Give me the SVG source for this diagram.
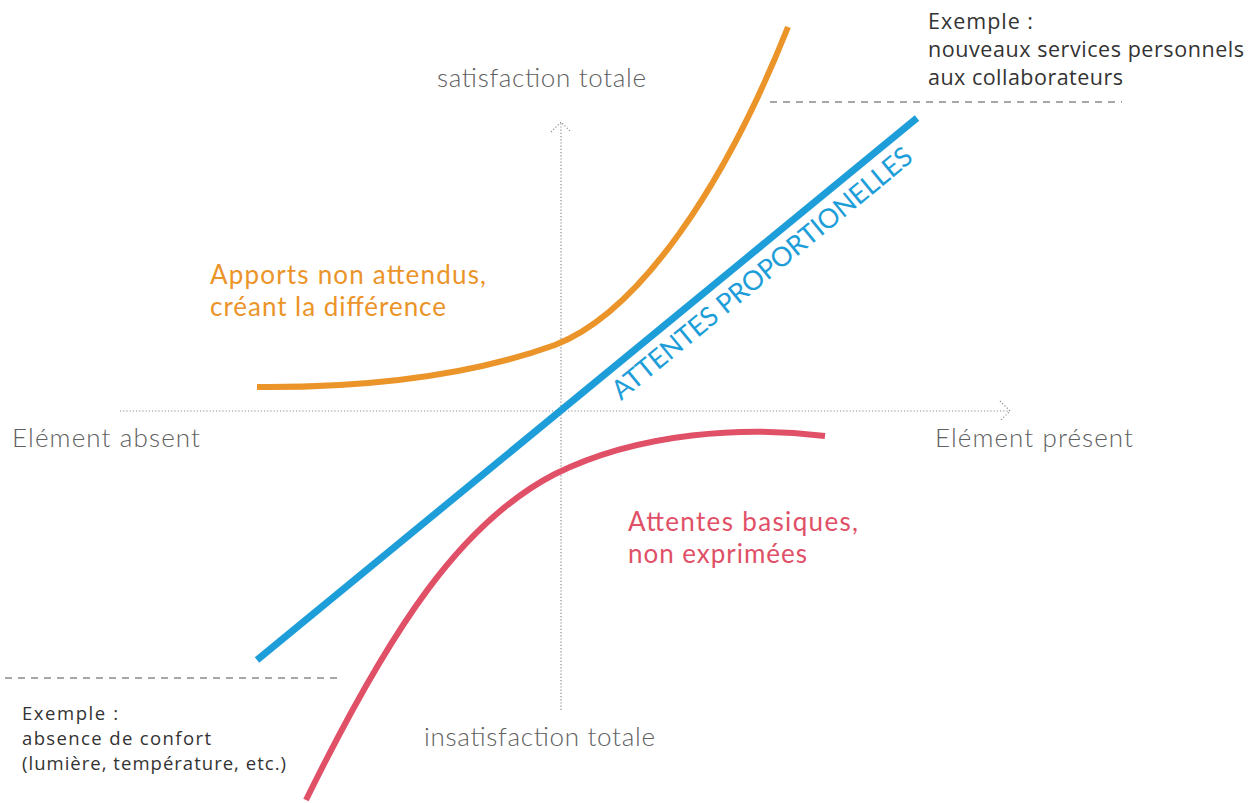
<svg xmlns="http://www.w3.org/2000/svg" width="1248" height="803" viewBox="0 0 1248 803">
  <style>
    .axis { fill: none; stroke: #8a8a8a; stroke-width: 1.2; stroke-dasharray: 1.2 2; }
    .guide { fill: none; stroke: #8a8a8a; stroke-width: 1.3; stroke-dasharray: 7 6; }
    .lbl { font-family: Lato, "Open Sans", sans-serif; font-weight: 300; font-size: 26px; fill: #606060; }
    .note { font-family: "Open Sans", Lato, sans-serif; font-weight: 400; fill: #333333; }
    .curve { fill: none; stroke-linecap: butt; }
    .orange { fill: #EB9429; }
    .red { fill: #E05067; }
    .cat { font-family: Lato, "Open Sans", sans-serif; font-weight: 400; font-size: 26px; }
  </style>
  <rect width="1248" height="803" fill="#ffffff"/>

  <!-- axes -->
  <g id="axes">
    <path class="axis" d="M120 411 H1010"/>
    <path class="axis" d="M1000 401 L1010 411 L1000 421"/>
    <path class="axis" d="M561 710 V122"/>
    <path class="axis" d="M551 132 L561 122 L571 132"/>
  </g>

  <!-- example guide lines -->
  <g id="guides">
    <path class="guide" d="M770 102 H1122"/>
    <path class="guide" d="M5 678 H343"/>
  </g>

  <!-- curves -->
  <g id="connectors">
    <path id="proportional" class="curve" stroke="#1E9ED9" stroke-width="7" d="M257 660 L917 118"/>
    <path id="delighters" class="curve" stroke="#EB9429" stroke-width="6" d="M257 387 C380 388 480 372 555 345 C640 312 725 185 788 27"/>
    <path id="basics" class="curve" stroke="#E05067" stroke-width="6" d="M306 800 C392 625 462 522 555 474 C640 432 745 426 825 436"/>
  </g>

  <!-- axis labels -->
  <g id="axis-labels">
    <text class="lbl" x="437" y="87" textLength="209">satisfaction totale</text>
    <text class="lbl" x="424" y="746" textLength="231">insatisfaction totale</text>
    <text class="lbl" x="12" y="447" textLength="188">Elément absent</text>
    <text class="lbl" x="935" y="447" textLength="198">Elément présent</text>
  </g>

  <!-- category labels -->
  <g id="label-delighters" class="cat orange">
    <text x="210" y="284" textLength="276">Apports non attendus,</text>
    <text x="210" y="316" textLength="236">créant la différence</text>
  </g>
  <g id="label-basics" class="cat red">
    <text x="628" y="531" textLength="230">Attentes basiques,</text>
    <text x="628" y="563" textLength="179">non exprimées</text>
  </g>
  <g id="label-proportional">
    <text x="0" y="0" transform="translate(621 401) rotate(-39.4)" font-family="Lato, 'Open Sans', sans-serif" font-size="27" fill="#1E9ED9" textLength="380">ATTENTES PROPORTIONELLES</text>
  </g>

  <!-- examples -->
  <g id="example-top" class="note" font-size="21.5">
    <text x="928" y="29" textLength="105">Exemple :</text>
    <text x="928" y="57" textLength="316">nouveaux services personnels</text>
    <text x="928" y="85" textLength="195">aux collaborateurs</text>
  </g>
  <g id="example-bottom" class="note" font-size="18.5">
    <text x="22" y="720" textLength="96">Exemple :</text>
    <text x="22" y="745" textLength="189">absence de confort</text>
    <text x="22" y="770" textLength="264">(lumière, température, etc.)</text>
  </g>
</svg>
